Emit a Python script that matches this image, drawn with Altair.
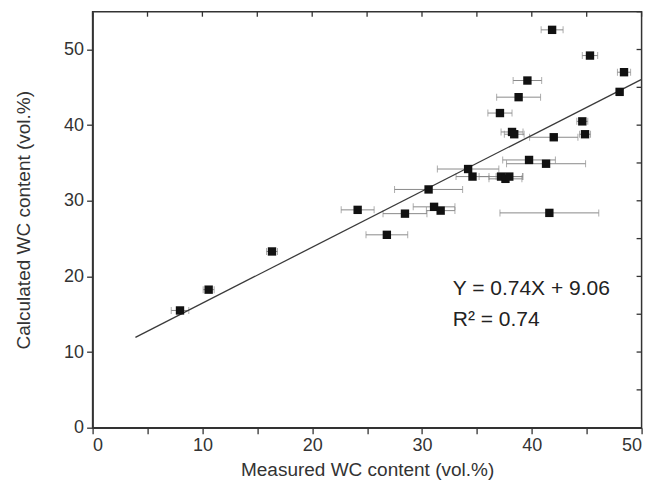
import altair as alt
import pandas as pd

# Measured (x), calculated (y) WC content and x-error half widths (vol.%)
measured = [7.96, 10.57, 16.34, 24.14, 26.8, 28.45, 30.6, 31.1, 31.7, 34.2, 34.6,
            37.2, 37.6, 37.95, 37.1, 38.2, 38.4, 38.8, 39.6, 39.75, 41.3, 41.6,
            42.0, 44.6, 44.85, 41.85, 45.3, 48.4, 48.0]
calculated = [15.5, 18.25, 23.3, 28.8, 25.5, 28.3, 31.5, 29.2, 28.7, 34.2, 33.2,
              33.2, 32.9, 33.2, 41.6, 39.1, 38.8, 43.7, 45.9, 35.4, 34.9, 28.4,
              38.4, 40.5, 38.8, 52.6, 49.2, 47.0, 44.4]
x_err = [0.8, 0.5, 0.5, 1.5, 1.9, 2.0, 3.1, 1.9, 1.3, 2.8, 1.5,
         2.0, 1.5, 1.2, 1.1, 1.0, 0.9, 2.0, 1.3, 2.4, 3.6, 4.5,
         2.2, 0.5, 0.5, 1.0, 0.7, 0.6, 0.3]

fit_x = [3.9, 50.0]
fit_y = [11.95, 46.06]

ann_x = [32.8, 32.8]
ann_y = [17.6, 13.4]
ann_text = ["Y = 0.74X + 9.06", "R\u00b2 = 0.74"]

x_ticks = list(range(0, 51, 5))
y_ticks = list(range(0, 56, 5))

df = pd.DataFrame({"x": measured, "y": calculated, "e": x_err})
df["lo"] = df["x"] - df["e"]
df["hi"] = df["x"] + df["e"]
fit = pd.DataFrame({"x": fit_x, "y": fit_y})
ann = pd.DataFrame({"x": ann_x, "y": ann_y, "t": ann_text})
xt = pd.DataFrame({"t": x_ticks})
yt = pd.DataFrame({"t": y_ticks})

FONT = "Liberation Sans"
W, H = 549, 416
xscale = alt.Scale(domain=[0, 50], nice=False, zero=False)
yscale = alt.Scale(domain=[0, 55], nice=False, zero=False)

xaxis = alt.Axis(values=x_ticks,
                 labelExpr="datum.value % 10 == 0 ? datum.label : ''",
                 title="Measured WC content (vol.%)", grid=False,
                 tickSize=6, labelPadding=3, titlePadding=6)
yaxis = alt.Axis(values=y_ticks,
                 labelExpr="datum.value % 10 == 0 ? datum.label : ''",
                 title="Calculated WC content (vol.%)", grid=False,
                 tickSize=6, labelPadding=3, titlePadding=30)

base = alt.Chart(df)

bars = base.mark_rule(color="#8a8a8a", strokeWidth=1).encode(
    x=alt.X("lo:Q", scale=xscale, axis=xaxis),
    x2="hi:Q",
    y=alt.Y("y:Q", scale=yscale, axis=yaxis),
)
cap_lo = base.mark_tick(color="#8a8a8a", orient="vertical", size=7, thickness=1).encode(
    x=alt.X("lo:Q", scale=xscale), y=alt.Y("y:Q", scale=yscale))
cap_hi = base.mark_tick(color="#8a8a8a", orient="vertical", size=7, thickness=1).encode(
    x=alt.X("hi:Q", scale=xscale), y=alt.Y("y:Q", scale=yscale))

# inward ticks on the top and right spines
top_ticks = alt.Chart(xt).mark_rule(color="#333333", strokeWidth=1.3).encode(
    x=alt.X("t:Q", scale=xscale), y=alt.value(0), y2=alt.value(5))
right_ticks = alt.Chart(yt).mark_rule(color="#333333", strokeWidth=1.3).encode(
    y=alt.Y("t:Q", scale=yscale), x=alt.value(W - 5), x2=alt.value(W))

line = alt.Chart(fit).mark_line(color="#3a3a3a", strokeWidth=1.3).encode(
    x=alt.X("x:Q", scale=xscale), y=alt.Y("y:Q", scale=yscale))

pts = base.mark_square(size=70, color="#111111", opacity=1).encode(
    x=alt.X("x:Q", scale=xscale), y=alt.Y("y:Q", scale=yscale))

text = alt.Chart(ann).mark_text(align="left", baseline="alphabetic", font=FONT,
                                fontSize=21, color="#222222").encode(
    x=alt.X("x:Q", scale=xscale), y=alt.Y("y:Q", scale=yscale), text="t:N")

chart = alt.layer(bars, cap_lo, cap_hi, top_ticks, right_ticks, line, pts, text).properties(
    width=W, height=H,
    autosize=alt.AutoSizeParams(type="none"),
    padding={"left": 84.6, "top": 3.7, "right": 3, "bottom": 55},
    background="white",
).configure_view(stroke="#333333", strokeWidth=1.5).configure_axis(
    domainColor="#333333", domainWidth=1.5, tickColor="#333333", tickWidth=1.3,
    labelFont=FONT, labelFontSize=18, labelColor="#333333",
    titleFont=FONT, titleFontSize=19, titleColor="#333333", titleFontWeight="normal",
)

chart.save("out.html", embed_options={"renderer": "svg", "actions": False})
